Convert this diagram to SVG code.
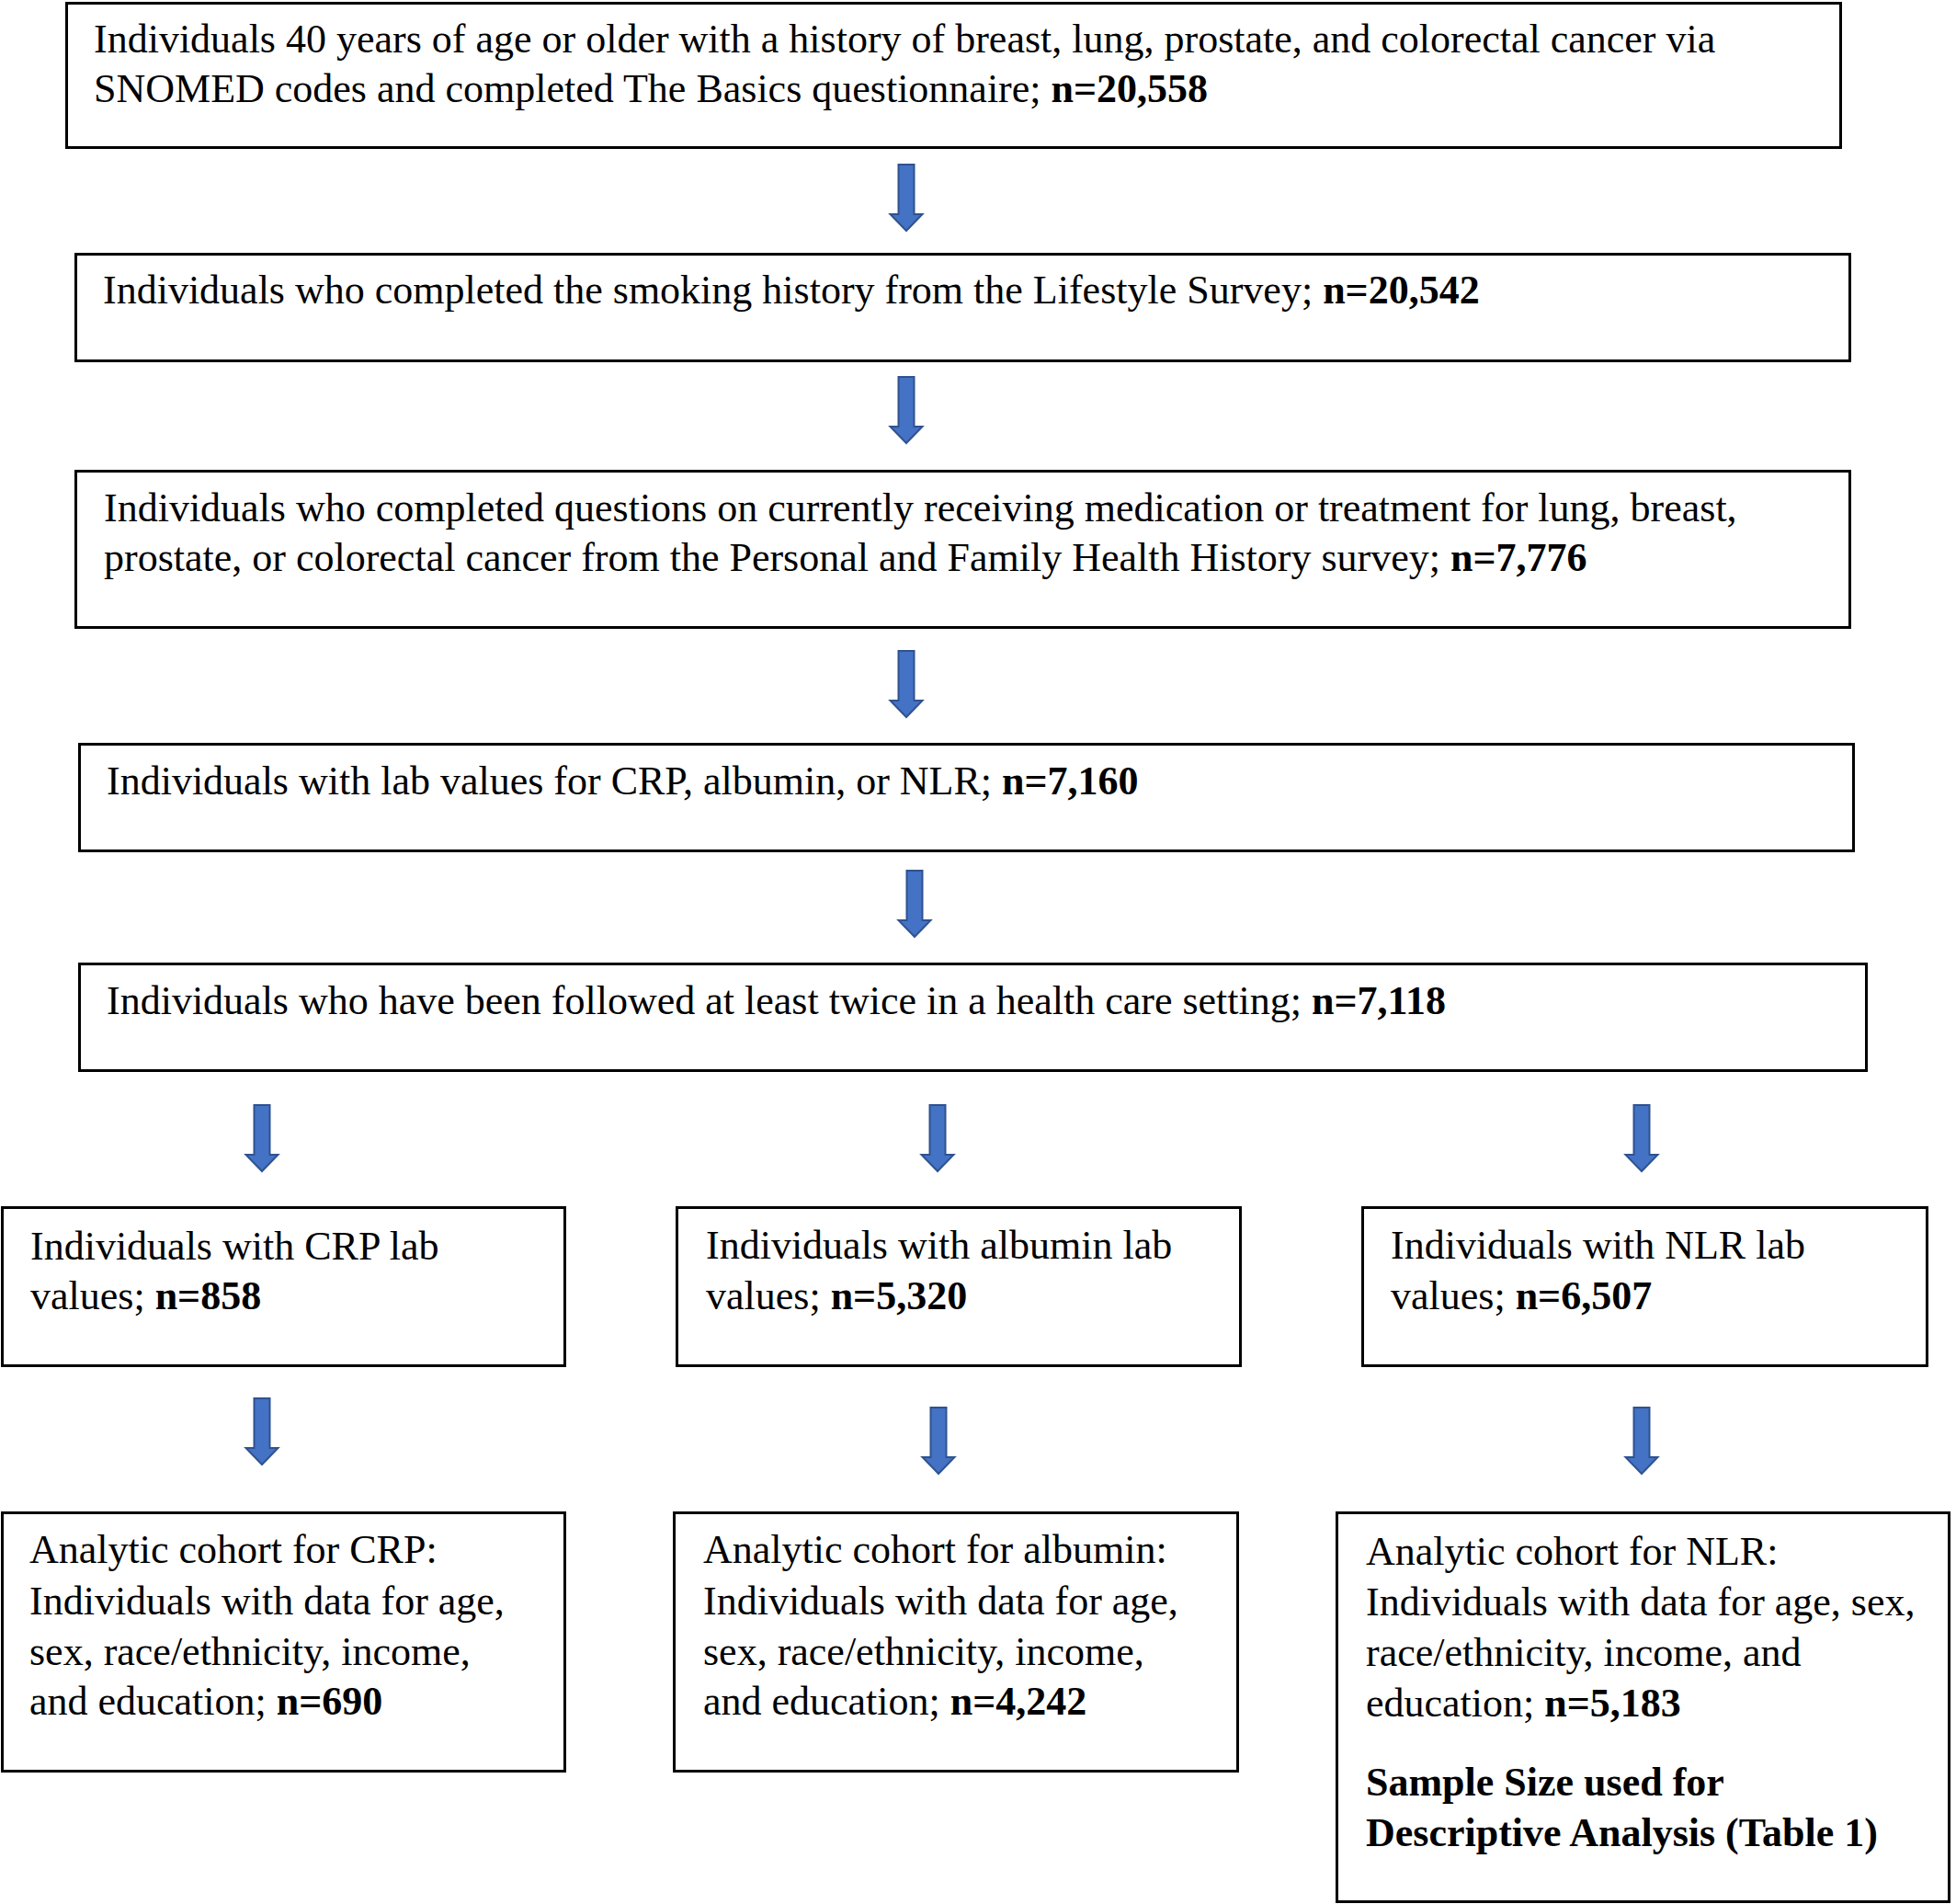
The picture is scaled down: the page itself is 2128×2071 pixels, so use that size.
<svg xmlns="http://www.w3.org/2000/svg" width="2128" height="2071" viewBox="0 0 2128 2071">
<defs>
<style>
.box{fill:#fff;stroke:#000;stroke-width:3}
.t{font-family:"Liberation Serif","Times New Roman",serif;font-size:44px;fill:#000}
.b{font-weight:bold}
.arr{fill:#4472C4;stroke:#2F528F;stroke-width:2;stroke-linejoin:miter}
</style>
<path id="arrow" d="M-8.5,0 H8.5 V54 H17.5 L0,72 L-17.5,54 H-8.5 Z"/>
</defs>
<rect width="2128" height="2071" fill="#fff"/>
<g id="connectors">
<use href="#arrow" class="arr" x="986" y="179"/>
<use href="#arrow" class="arr" x="986" y="410"/>
<use href="#arrow" class="arr" x="986" y="708"/>
<use href="#arrow" class="arr" x="995" y="947"/>
<use href="#arrow" class="arr" x="285" y="1202"/>
<use href="#arrow" class="arr" x="1020" y="1202"/>
<use href="#arrow" class="arr" x="1786" y="1202"/>
<use href="#arrow" class="arr" x="285" y="1521"/>
<use href="#arrow" class="arr" x="1021" y="1531"/>
<use href="#arrow" class="arr" x="1786" y="1531"/>
</g>
<g id="n1">
<rect class="box" x="72.5" y="3.5" width="1930" height="157"/>
<text class="t" x="102" y="57">Individuals 40 years of age or older with a history of breast, lung, prostate, and colorectal cancer via</text>
<text class="t" x="102" y="111">SNOMED codes and completed The Basics questionnaire; <tspan class="b">n=20,558</tspan></text>
</g>
<g id="n2">
<rect class="box" x="82.5" y="276.5" width="1930" height="116"/>
<text class="t" x="112" y="330">Individuals who completed the smoking history from the Lifestyle Survey; <tspan class="b">n=20,542</tspan></text>
</g>
<g id="n3">
<rect class="box" x="82.5" y="512.5" width="1930" height="170"/>
<text class="t" x="113" y="567">Individuals who completed questions on currently receiving medication or treatment for lung, breast,</text>
<text class="t" x="113" y="621">prostate, or colorectal cancer from the Personal and Family Health History survey; <tspan class="b">n=7,776</tspan></text>
</g>
<g id="n4">
<rect class="box" x="86.5" y="809.5" width="1930" height="116"/>
<text class="t" x="116" y="864">Individuals with lab values for CRP, albumin, or NLR; <tspan class="b">n=7,160</tspan></text>
</g>
<g id="n5">
<rect class="box" x="86.5" y="1048.5" width="1944" height="116"/>
<text class="t" x="116" y="1103">Individuals who have been followed at least twice in a health care setting; <tspan class="b">n=7,118</tspan></text>
</g>
<g id="n6">
<rect class="box" x="2.5" y="1313.5" width="612" height="172"/>
<text class="t" x="33" y="1370">Individuals with CRP lab</text>
<text class="t" x="33" y="1424">values; <tspan class="b">n=858</tspan></text>
</g>
<g id="n7">
<rect class="box" x="736.5" y="1313.5" width="613" height="172"/>
<text class="t" x="768" y="1369">Individuals with albumin lab</text>
<text class="t" x="768" y="1424">values; <tspan class="b">n=5,320</tspan></text>
</g>
<g id="n8">
<rect class="box" x="1482.5" y="1313.5" width="614" height="172"/>
<text class="t" x="1513" y="1369">Individuals with NLR lab</text>
<text class="t" x="1513" y="1424">values; <tspan class="b">n=6,507</tspan></text>
</g>
<g id="n9">
<rect class="box" x="2.5" y="1645.5" width="612" height="281"/>
<text class="t" x="32" y="1700">Analytic cohort for CRP:</text>
<text class="t" x="32" y="1756">Individuals with data for age,</text>
<text class="t" x="32" y="1811">sex, race/ethnicity, income,</text>
<text class="t" x="32" y="1865">and education; <tspan class="b">n=690</tspan></text>
</g>
<g id="n10">
<rect class="box" x="733.5" y="1645.5" width="613" height="281"/>
<text class="t" x="765" y="1700">Analytic cohort for albumin:</text>
<text class="t" x="765" y="1756">Individuals with data for age,</text>
<text class="t" x="765" y="1811">sex, race/ethnicity, income,</text>
<text class="t" x="765" y="1865">and education; <tspan class="b">n=4,242</tspan></text>
</g>
<g id="n11">
<rect class="box" x="1454.5" y="1645.5" width="666" height="423"/>
<text class="t" x="1486" y="1702">Analytic cohort for NLR:</text>
<text class="t" x="1486" y="1757">Individuals with data for age, sex,</text>
<text class="t" x="1486" y="1812">race/ethnicity, income, and</text>
<text class="t" x="1486" y="1867">education; <tspan class="b">n=5,183</tspan></text>
<text class="t b" x="1486" y="1953">Sample Size used for</text>
<text class="t b" x="1486" y="2008">Descriptive Analysis (Table 1)</text>
</g>
</svg>
